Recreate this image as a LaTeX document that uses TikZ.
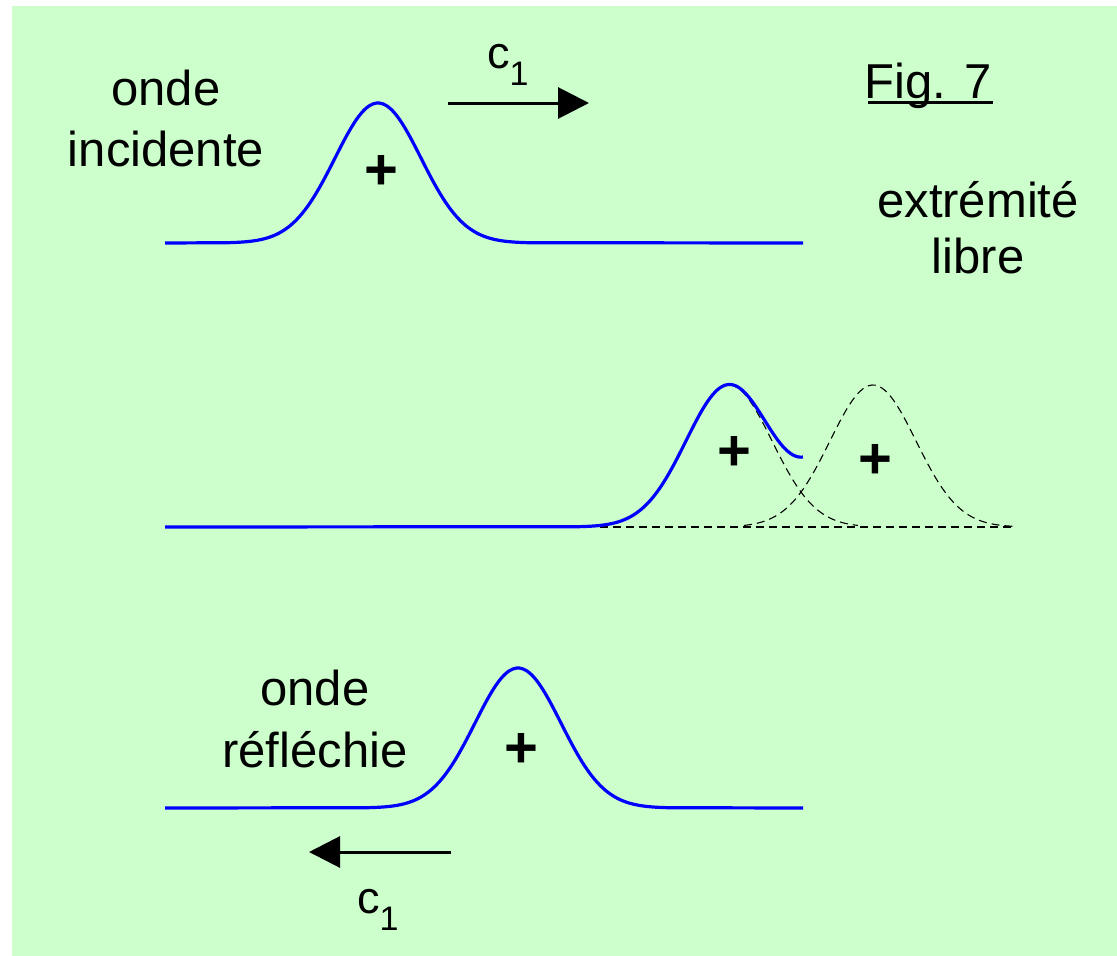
\documentclass[tikz,border=0pt]{standalone}
\usepackage{fontspec}
\setmainfont{Liberation Sans}
\usetikzlibrary{arrows.meta}
\definecolor{bggreen}{HTML}{CCFFCC}
\definecolor{wavecol}{HTML}{0000FF}
\tikzset{
  wave/.style={draw=wavecol, line width=3.2pt, line join=round},
  ghost/.style={draw=black, line width=1.1pt, dash pattern=on 8pt off 5pt},
  arr/.style={draw=black, line width=3pt, -{Triangle[length=31pt,width=31pt]}},
  lbl/.style={inner sep=0pt, anchor=base, font=\fontsize{49}{58}\selectfont},
  plus/.style={inner sep=0pt, anchor=center, font=\fontsize{58}{58}\selectfont\bfseries},
}
\newcommand{\cone}{\fontsize{45}{50}\selectfont c\raisebox{-17pt}{\fontsize{34}{40}\selectfont 1}}
\begin{document}
\begin{tikzpicture}[x=1pt,y=-1pt]
\useasboundingbox (0,0) rectangle (1117,956);
\fill[bggreen] (12,6) rectangle (1117,956);

% ---- top: incident wave
\draw[wave] (165,243) -- plot[domain=-3.5:3.5,samples=90,smooth] ({378+43*\x},{243-140*exp(-\x*\x/2)}) -- (803,243);
\node[plus] (p1) at (381,172) {+};
\node[lbl] (t1a) at (166,105) {onde};
\node[lbl] (t1b) at (166,166) {incidente};
\coordinate (a1s) at (448,103);
\coordinate (a1e) at (589,103);
\draw[arr] (a1s) -- (a1e);
\node[inner sep=0pt, anchor=base west] (c1a) at (487,68) {\cone};

\node[inner sep=0pt, anchor=base] (fig) at (928,98) {\fontsize{49}{58}\selectfont Fig. 7};
\draw[line width=2.5pt] (868,102.5) -- (993,102.5);
\node[lbl] (t2a) at (978,217) {extrémité};
\node[lbl] (t2b) at (978,273) {libre};

% ---- middle: superposition at the free end
\draw[ghost] (600,527) -- (1015,527);
\draw[ghost] plot[domain=0:3,samples=60,smooth] ({729+43*\x},{527-142*exp(-\x*\x/2)});
\draw[ghost] plot[domain=-3:3.3,samples=90,smooth] ({873+43*\x},{527-142*exp(-\x*\x/2)});
\draw[wave] (165,527) -- plot[domain=-3.5:1.72,samples=90,smooth] ({729+43*\x},{527-142*(exp(-\x*\x/2)+exp(-(\x-3.35)*(\x-3.35)/2))});
\node[plus] (p2) at (734,453) {+};
\node[plus] (p3) at (875,461) {+};

% ---- bottom: reflected wave
\draw[wave] (165,808) -- plot[domain=-3.5:3.5,samples=90,smooth] ({518+43*\x},{808-140*exp(-\x*\x/2)}) -- (803,808);
\node[plus] (p4) at (521,750) {+};
\node[lbl] (t3a) at (315,705) {onde};
\node[lbl] (t3b) at (315,767) {réfléchie};
\coordinate (a2s) at (451,852);
\coordinate (a2e) at (309,852);
\draw[arr] (a2s) -- (a2e);
\node[inner sep=0pt, anchor=base west] (c1b) at (357,913) {\cone};
\end{tikzpicture}
\end{document}
